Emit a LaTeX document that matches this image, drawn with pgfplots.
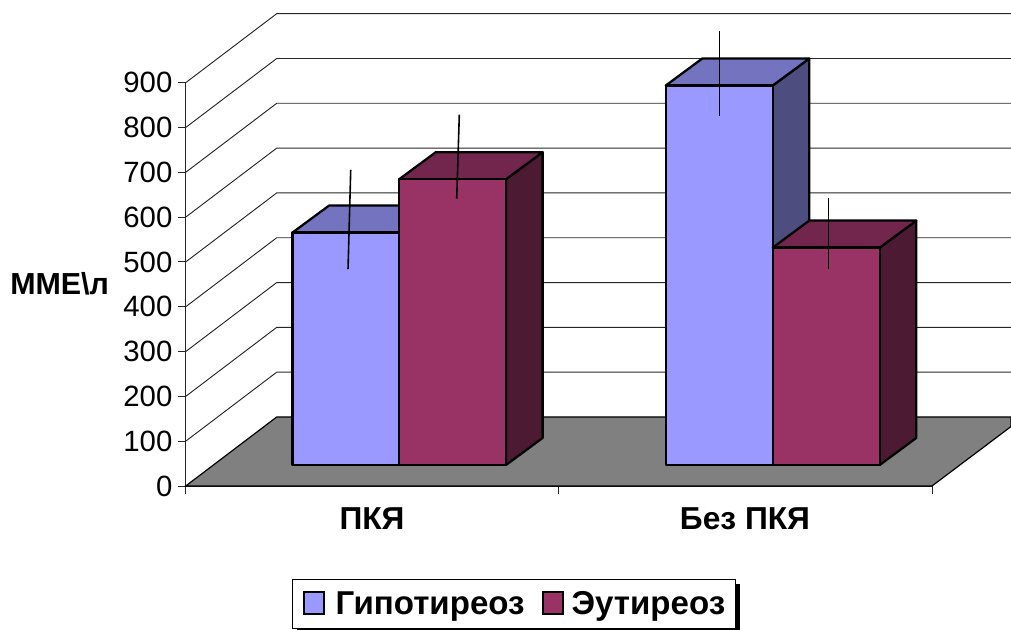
\documentclass[border=0pt]{standalone}
\usepackage{fontspec}
\setmainfont{Liberation Sans}
\usepackage{pgfplots}
\pgfplotsset{compat=1.18}

\definecolor{blueF}{HTML}{9999FF}
\definecolor{blueT}{HTML}{7373BF}
\definecolor{blueS}{HTML}{4D4D80}
\definecolor{wineF}{HTML}{993366}
\definecolor{wineT}{HTML}{73264D}
\definecolor{wineS}{HTML}{4D1A33}

% oblique projection of the bars: floor offset and depth, in axis units
\newcommand{\baseY}{46.9}
\newcommand{\depthX}{36.6}
\newcommand{\depthY}{60.3}

% one 3D bar: left, right, value, series colour prefix
\newcommand{\drawbar}[4]{%
  \pgfmathsetmacro\yTop{\baseY+#3}%
  \pgfmathsetmacro\yTopB{\yTop+\depthY}%
  \pgfmathsetmacro\yBaseB{\baseY+\depthY}%
  \pgfmathsetmacro\xRB{#2+\depthX}%
  \pgfmathsetmacro\xLB{#1+\depthX}%
  \addplot[forget plot,fill=#4S,draw=black,line width=1.7pt,line join=round] coordinates
    {(#2,\baseY) (\xRB,\yBaseB) (\xRB,\yTopB) (#2,\yTop)} --cycle;
  \addplot[forget plot,fill=#4T,draw=black,line width=1.7pt,line join=round] coordinates
    {(#1,\yTop) (\xLB,\yTopB) (\xRB,\yTopB) (#2,\yTop)} --cycle;
  \addplot[forget plot,fill=#4F,draw=black,line width=1.7pt,line join=round] coordinates
    {(#1,\baseY) (#1,\yTop) (#2,\yTop) (#2,\baseY)} --cycle;
}
% one whisker: x at the top, x at the bottom, low value, high value
\newcommand{\drawerr}[4]{%
  \pgfmathsetmacro\yHi{\baseY+#4}%
  \pgfmathsetmacro\yLo{\baseY+#3}%
  \addplot[forget plot,black,line width=1.2pt] coordinates {(#1,\yHi) (#2,\yLo)};
}
% one gridline across the side wall and the back wall
\newcommand{\drawgrid}[1]{%
  \pgfmathsetmacro\yBack{#1+154}%
  \addplot[forget plot,black!85,line width=.7pt] coordinates
    {(185.7,#1) (276.7,\yBack) (1011,\yBack)};
}

\begin{document}
\begin{tikzpicture}
\useasboundingbox (0,0) rectangle (758.25pt,472.5pt);
\begin{axis}[
  at={(139.3pt,108pt)}, anchor=south west,
  scale only axis, width=559.7pt, height=302.5pt,
  xmin=185.7, xmax=932, ymin=0, ymax=900,
  clip=false,
  axis lines=left, axis line style={-, line width=.7pt, black!85},
  tick align=outside, tick style={black!85, line width=.7pt},
  major tick length=6pt,
  /pgf/number format/assume math mode=true,
  tick label style={font=\fontsize{22}{24}\selectfont},
  ytick={0,100,...,900},
  yticklabel style={xshift=-.5pt},
  xtick={185.7,558.8,932}, xticklabels={,,},
  extra x ticks={372,745},
  extra x tick labels={ПКЯ,Без ПКЯ},
  extra x tick style={major tick length=0pt,
    tick label style={font=\fontsize{23.8}{26}\selectfont\bfseries, yshift=-13pt}},
  ylabel={ММЕ\textbackslash л},
  y label style={at={(axis description cs:-0.169,0.501)}, rotate=-90, anchor=center,
    font=\fontsize{22.8}{24}\selectfont\bfseries},
  legend columns=2,
  legend style={at={(axis description cs:0.44,-0.292)}, anchor=center,
    draw=black, line width=.7pt, fill=white,
    font=\fontsize{24.8}{26}\selectfont\bfseries,
    inner xsep=7.5pt, inner ysep=3pt,
    nodes={inner xsep=0pt, inner ysep=0pt, text height=23.25pt, text depth=7.25pt},
    /tikz/column 1/.style={column sep=8pt},
    /tikz/column 2/.style={column sep=12.8pt},
    /tikz/column 3/.style={column sep=6pt}},
  legend image code/.code={
    \draw[#1, line width=1.5pt] (0pt,-7.5pt) rectangle (15pt,8.5pt);},
]
\addlegendimage{fill=blueF,draw=black}
\addlegendentry{Гипотиреоз}
\addlegendimage{fill=wineF,draw=black}
\addlegendentry{Эутиреоз}

% walls
\drawgrid{100}\drawgrid{200}\drawgrid{300}\drawgrid{400}\drawgrid{500}
\drawgrid{600}\drawgrid{700}\drawgrid{800}\drawgrid{900}

% floor
\addplot[forget plot,fill=black!50,draw=black,line width=.9pt] coordinates
  {(185.7,0) (276.7,154) (1011,154) (1011,132.6) (932,0)} --cycle;

% bars
\drawbar{292.4}{399.2}{518.5}{blue}
\drawbar{399.2}{506}{637.7}{wine}
\drawbar{665.7}{772.7}{846.7}{blue}
\drawbar{772.7}{879.7}{485}{wine}

% whiskers
\drawerr{350.7}{348}{436.8}{658.5}
\drawerr{459.3}{456.7}{594.4}{782}
\drawerr{719.3}{719.3}{779.7}{968}
\drawerr{828.3}{828.3}{437.5}{596.7}

% legend shadow
\fill[black] (axis cs:297,-321.4) rectangle (axis cs:740,-218.75);
\end{axis}
\end{tikzpicture}
\end{document}
